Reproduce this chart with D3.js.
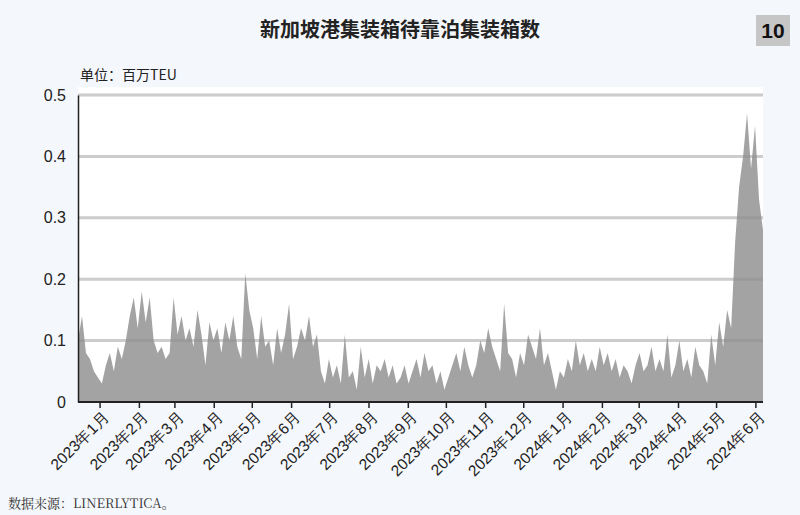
<!DOCTYPE html>
<html><head><meta charset="utf-8">
<script src="https://cdn.jsdelivr.net/npm/d3@7"></script>
<style>body{margin:0;background:#f4f7fb;font-family:"Noto Sans CJK SC","Noto Sans",sans-serif}</style>
</head><body><svg id="c" width="800" height="515"></svg>
<script>
const title = "新加坡港集装箱待靠泊集装箱数";
const unitLabel = "单位：百万TEU";
const sourceLabel = "数据来源：LINERLYTICA。";
const pageNo = "10";
const startDate = "2022-12-15";
const endDate = "2024-06-07";
const values = [
0.10,0.14,0.08,0.07,0.05,
0.04,0.03,0.06,0.08,0.05,0.09,0.07,0.10,
0.14,0.17,0.12,0.18,0.13,0.17,0.10,0.08,0.09,
0.07,0.08,0.17,0.11,0.14,0.10,0.12,0.09,0.15,0.11,
0.06,0.13,0.10,0.12,0.08,0.13,0.10,0.14,0.09,0.07,
0.21,0.15,0.12,0.07,0.14,0.09,0.10,0.06,0.12,0.08,
0.11,0.16,0.07,0.09,0.12,0.10,0.14,0.09,0.11,
0.05,0.03,0.07,0.04,0.06,0.03,0.11,0.04,0.05,0.02,
0.09,0.04,0.07,0.03,0.06,0.05,0.07,0.04,0.06,0.03,
0.04,0.06,0.03,0.05,0.07,0.04,0.08,0.05,0.06,
0.03,0.05,0.02,0.04,0.06,0.08,0.05,0.09,0.06,0.04,
0.06,0.10,0.08,0.12,0.09,0.07,0.05,0.16,0.08,0.07,
0.04,0.08,0.06,0.11,0.09,0.07,0.12,0.06,0.08,0.05,
0.02,0.05,0.04,0.07,0.05,0.10,0.06,0.08,0.05,0.07,
0.05,0.09,0.06,0.08,0.05,0.07,0.04,0.06,0.05,
0.03,0.06,0.08,0.05,0.06,0.09,0.05,0.07,0.05,0.11,
0.04,0.06,0.10,0.05,0.07,0.04,0.09,0.06,0.05,
0.03,0.11,0.06,0.13,0.09,0.15,0.12,0.26,0.35,0.40,
0.47,0.38,0.45,0.33,0.28];
const yTicks = [0,0.1,0.2,0.3,0.4,0.5];
const monthTicks = ["2023-01-01","2023-02-01","2023-03-01","2023-04-01","2023-05-01","2023-06-01","2023-07-01","2023-08-01","2023-09-01","2023-10-01","2023-11-01","2023-12-01","2024-01-01","2024-02-01","2024-03-01","2024-04-01","2024-05-01","2024-06-01"];

const svg = d3.select("#c");
const parse = d3.utcParse("%Y-%m-%d");
const t0 = parse(startDate), t1 = parse(endDate);
const dateAt = d3.scaleLinear().domain([0, values.length-1]).range([+t0, +t1]);
const data = values.map((v,i)=>({d:new Date(dateAt(i)),v}));
const L=78,R=763,T=95,B=402;
const x = d3.scaleUtc().domain([t0, t1]).range([L,R]);
const y = d3.scaleLinear().domain([0,0.5]).range([B,T]);

svg.append("rect").attr("x",L).attr("y",T-8).attr("width",R-L).attr("height",B-T+8).attr("fill","#fff");
svg.selectAll(".g").data(yTicks.slice(1)).join("line")
  .attr("x1",L).attr("x2",R).attr("y1",d=>y(d)).attr("y2",d=>y(d))
  .attr("stroke","#e0e0e0").attr("stroke-width",3);
svg.append("path").datum(data)
  .attr("d",d3.area().x(d=>x(d.d)).y0(B).y1(d=>y(d.v)))
  .attr("fill","#a3a3a3");
svg.selectAll(".g2").data(yTicks.slice(1)).join("line")
  .attr("x1",L).attr("x2",R).attr("y1",d=>y(d)).attr("y2",d=>y(d))
  .attr("stroke","#777").attr("stroke-opacity",0.18).attr("stroke-width",3);

const ya = svg.append("g").attr("transform",`translate(${L},0)`)
  .call(d3.axisLeft(y).tickValues(yTicks).tickSize(0).tickPadding(12).tickFormat(d=>d===0?"0":d3.format(".1f")(d)));
ya.select(".domain").attr("stroke","#222").attr("stroke-width",1.5);
ya.selectAll("text").attr("font-size",16).attr("fill","#222").attr("font-family","Liberation Sans,Arial,sans-serif");

const xa = svg.append("g").attr("transform",`translate(0,${B})`)
  .call(d3.axisBottom(x).tickValues(monthTicks.map(parse)).tickSize(6).tickFormat(d=>d3.utcFormat("%Y")(d)+"年"+(d.getUTCMonth()+1)+"月"));
xa.select(".domain").attr("stroke","#222").attr("stroke-width",2).attr("d",`M${L},0H${R}`);
xa.selectAll(".tick line").attr("stroke","#222").attr("stroke-width",1.5);
xa.selectAll("text").attr("font-size",15.5).attr("fill","#222").attr("font-family","Liberation Sans,Arial,sans-serif")
  .attr("text-anchor","end").attr("y",0).attr("dy",0).attr("transform","translate(10,16) rotate(-45)");

svg.append("text").attr("x",400).attr("y",37).attr("text-anchor","middle")
  .attr("font-size",20).attr("font-weight","bold").attr("fill","#222").text(title);
svg.append("rect").attr("x",756).attr("y",15).attr("width",34).attr("height",31).attr("fill","#c6c6c6");
svg.append("text").attr("x",773).attr("y",38).attr("text-anchor","middle")
  .attr("font-size",21).attr("font-weight","bold").attr("fill","#111").attr("font-family","Liberation Sans,Arial,sans-serif").text(pageNo);
svg.append("text").attr("x",80).attr("y",80).attr("font-size",14).attr("fill","#222").text(unitLabel);
svg.append("text").attr("x",8).attr("y",508).attr("font-size",13).attr("fill","#333")
  .attr("font-family","Noto Serif CJK SC,serif").text(sourceLabel);
</script></body></html>
